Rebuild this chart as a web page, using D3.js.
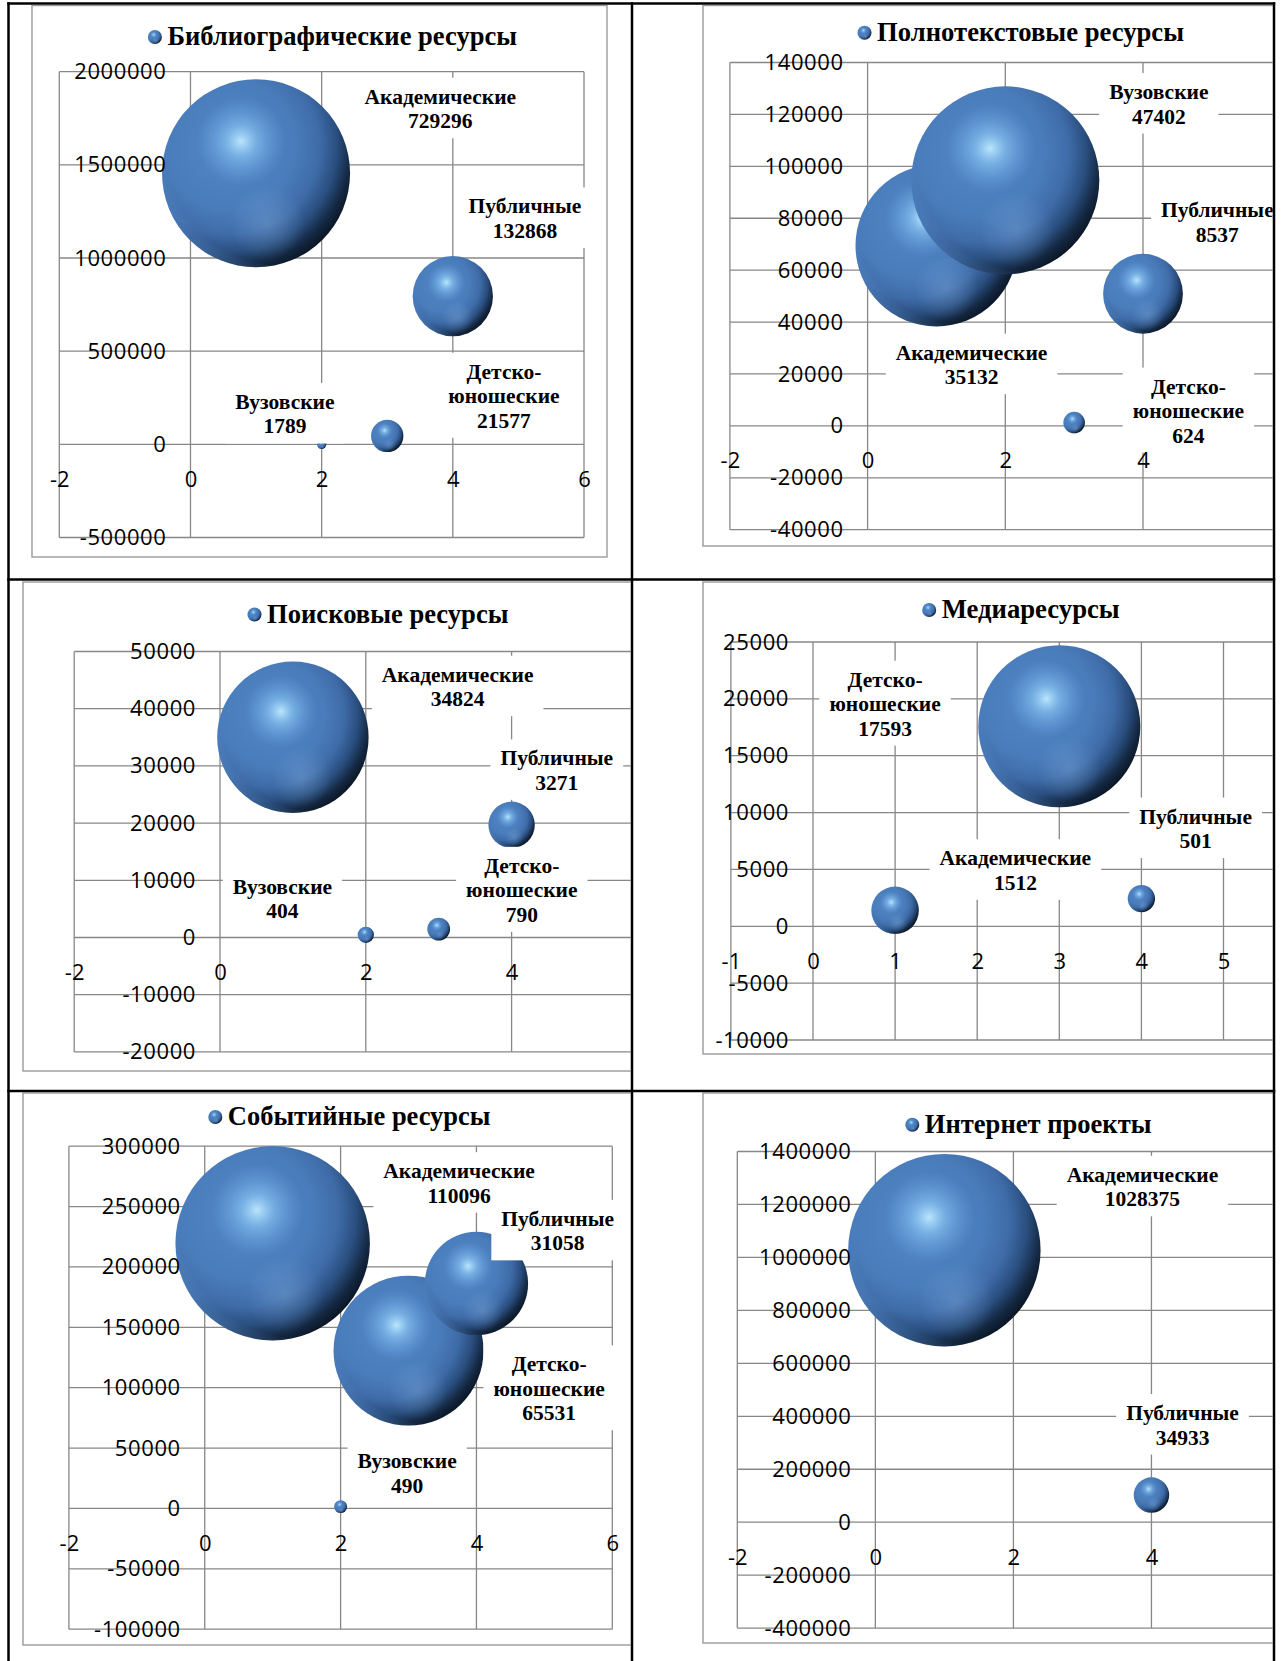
<!DOCTYPE html>
<html><head><meta charset="utf-8">
<script src="https://cdn.jsdelivr.net/npm/d3@7"></script>
<style>html,body{margin:0;padding:0;background:#fff;overflow:hidden;} svg{display:block;}</style>
</head><body>
<svg id="chart" width="1286" height="1661"></svg>
<script>
// ---------------- DATA ----------------
const categories = ["Академические", "Вузовские", "Детско-юношеские", "Публичные"];
const categoryX = [1, 2, 3, 4];

const panelTitles = [
  "Библиографические ресурсы",
  "Полнотекстовые ресурсы",
  "Поисковые ресурсы",
  "Медиаресурсы",
  "Событийные ресурсы",
  "Интернет проекты"
];

// bubble size values (shown in the data labels), order = categories
const bubbleSizes = [
  [729296, 1789, 21577, 132868],
  [35132, 47402, 624, 8537],
  [34824, 404, 790, 3271],
  [1512, null, 17593, 501],
  [110096, 490, 65531, 31058],
  [1028375, null, null, 34933]
];

// bubble vertical positions
const bubbleY = [
  [1455000, 0, 45000, 795000],
  [69500, 94600, 1300, 50900],
  [35000, 470, 1470, 19700],
  [1400, null, 17593, 2435],
  [219600, 1500, 130700, 186300],
  [1027300, null, null, 102400]
];

const xDomains = [[-2, 6], [-2, 6], [-2, 6], [-1, 6], [-2, 6], [-2, 6]];
const yDomains = [[-500000, 2000000], [-40000, 140000], [-20000, 50000], [-10000, 25000], [-100000, 300000], [-400000, 1400000]];

const xTickValues = [
  [-2, 0, 2, 4, 6],
  [-2, 0, 2, 4],
  [-2, 0, 2, 4],
  [-1, 0, 1, 2, 3, 4, 5],
  [-2, 0, 2, 4, 6],
  [-2, 0, 2, 4]
];
const yTickValues = [
  [-500000, 0, 500000, 1000000, 1500000, 2000000],
  [-40000, -20000, 0, 20000, 40000, 60000, 80000, 100000, 120000, 140000],
  [-20000, -10000, 0, 10000, 20000, 30000, 40000, 50000],
  [-10000, -5000, 0, 5000, 10000, 15000, 20000, 25000],
  [-100000, -50000, 0, 50000, 100000, 150000, 200000, 250000, 300000],
  [-400000, -200000, 0, 200000, 400000, 600000, 800000, 1000000, 1200000, 1400000]
];

// ---------------- LAYOUT ----------------
// data-label anchor positions, in axis units (annotation placement)
const labelAt = [
  [[3.81, 1800000], [1.44, 161600], [4.78, 258000], [5.10, 1211000]],
  [[1.51, 23500], [4.23, 123900], [4.66, 5700], [5.08, 78300]],
  [[3.26, 43800], [0.857, 6770], [4.14, 8250], [4.62, 29180]],
  [[2.465, 4900], null, [0.878, 19535], [4.66, 8570]],
  [[3.745, 269200], [2.98, 28900], [5.07, 99100], [5.196, 229700]],
  [[3.87, 1265600], null, null, [4.45, 365900]]
];
const cells = [
  {x0: 8.5, y0: 3.5, x1: 632, y1: 579.5},
  {x0: 632, y0: 3.5, x1: 1274, y1: 579.5},
  {x0: 8.5, y0: 579.5, x1: 632, y1: 1091},
  {x0: 632, y0: 579.5, x1: 1274, y1: 1091},
  {x0: 8.5, y0: 1091, x1: 632, y1: 1668},
  {x0: 632, y0: 1091, x1: 1274, y1: 1668}
];
const frames = [
  {x0: 32, y0: 5.5, x1: 607, y1: 557},
  {x0: 703, y0: 5.5, x1: 1300, y1: 546},
  {x0: 23, y0: 582, x1: 660, y1: 1071},
  {x0: 703, y0: 582, x1: 1300, y1: 1054},
  {x0: 23, y0: 1093, x1: 660, y1: 1645},
  {x0: 703, y0: 1093, x1: 1300, y1: 1643}
];
const plots = [
  {x: [59.3, 584], y: [537.5, 71.7], rMax: 94},
  {x: [729.9, 1280.7], y: [529.7, 62.5], rMax: 94},
  {x: [74.2, 657.4], y: [1051.9, 651.5], rMax: 75.7},
  {x: [730.9, 1305.6], y: [1040, 642], rMax: 81},
  {x: [68.9, 612.3], y: [1629.2, 1146.2], rMax: 97.2},
  {x: [737.3, 1289.5], y: [1628.1, 1151.5], rMax: 96.2}
];
const titlePos = [
  {x: 167.4, y: 37, w: 349.6},
  {x: 877, y: 32.7, w: 307},
  {x: 267, y: 614.5, w: 241.5},
  {x: 941.7, y: 610, w: 178},
  {x: 227.8, y: 1117, w: 262.7},
  {x: 924.8, y: 1124.8, w: 226.7}
];

const SERIF = "'Liberation Serif','Times New Roman',serif";
const SANS = "'Open Sans','Noto Sans',sans-serif";
const GRID = "#878787";

// ---------------- DRAW ----------------
const svg = d3.select("#chart");
svg.append("rect").attr("width", 1286).attr("height", 1661).attr("fill", "#fff");
const defs = svg.append("defs");

function radial(id, attrs, stops) {
  const gr = defs.append("radialGradient").attr("id", id);
  Object.entries(attrs).forEach(([k, v]) => gr.attr(k, v));
  stops.forEach(([o, c, op]) => gr.append("stop").attr("offset", o).attr("stop-color", c)
    .attr("stop-opacity", op == null ? 1 : op));
}
// base body: uniform mid-blue, shading to dark navy toward lower-right
radial("sphere", {cx: 0.36, cy: 0.35, r: 0.72},
  [[0, "#5087c6"], [0.48, "#4a7cbb"], [0.66, "#3f6ca8"], [0.79, "#2a4f80"], [0.9, "#142842"], [1, "#08111d"]]);
// bright specular highlight upper-left
radial("hilite", {cx: 0.42, cy: 0.33, r: 0.24},
  [[0, "#c0ebff", 0.95], [0.35, "#90cbf7", 0.6], [1, "#6aa8e8", 0]]);
// rim light on lower-left edge
radial("rim", {cx: 0.64, cy: 0.36, r: 0.78},
  [[0, "#5f95d6", 0], [0.8, "#5f95d6", 0], [0.93, "#5f95d6", 0.5], [1, "#6a9edc", 0.75]]);
// soft reflected light lower middle
radial("refl", {cx: 0.56, cy: 0.76, r: 0.2},
  [[0, "#86b2e2", 0.35], [1, "#86b2e2", 0]]);

function sphere(sel, cx, cy, r) {
  ["sphere", "rim", "refl", "hilite"].forEach(id =>
    sel.append("circle").attr("cx", cx).attr("cy", cy).attr("r", r).attr("fill", `url(#${id})`));
}

panelTitles.forEach((title, i) => {
  const cell = cells[i], fr = frames[i], P = plots[i];
  defs.append("clipPath").attr("id", "clip" + i).append("rect")
    .attr("x", cell.x0 + 1.3).attr("y", cell.y0 + 1.3)
    .attr("width", cell.x1 - cell.x0 - 2.6).attr("height", cell.y1 - cell.y0 - 2.6);
  const g = svg.append("g").attr("clip-path", `url(#clip${i})`);

  // chart area border
  g.append("rect").attr("x", fr.x0).attr("y", fr.y0)
    .attr("width", fr.x1 - fr.x0).attr("height", fr.y1 - fr.y0)
    .attr("fill", "#fff").attr("stroke", "#9a9a9a").attr("stroke-width", 1.4);

  const x = d3.scaleLinear().domain(xDomains[i]).range(P.x);
  const y = d3.scaleLinear().domain(yDomains[i]).range(P.y);
  const xs = xTickValues[i];
  const step = xs[1] - xs[0];
  const gridX = d3.range(xDomains[i][0], xDomains[i][1] + 1e-9, step);
  const gridY = yTickValues[i];

  // gridlines
  const grid = g.append("g").attr("stroke", GRID).attr("stroke-width", 1.3);
  grid.selectAll("line.h").data(gridY).join("line").attr("class", "h")
    .attr("x1", x(xDomains[i][0])).attr("x2", x(xDomains[i][1]))
    .attr("y1", d => y(d)).attr("y2", d => y(d));
  grid.selectAll("line.v").data(gridX).join("line").attr("class", "v")
    .attr("x1", d => x(d)).attr("x2", d => x(d))
    .attr("y1", y(yDomains[i][1])).attr("y2", y(yDomains[i][0]));

  // bubbles
  const sizes = bubbleSizes[i], ys = bubbleY[i];
  const r = d3.scaleSqrt().domain([0, d3.max(sizes)]).range([0, P.rMax]);
  const pts = categories.map((c, k) => ({c, xv: categoryX[k], yv: ys[k], s: sizes[k], lab: labelAt[i][k]}))
    .filter(d => d.s != null);
  const bub = g.append("g");
  pts.forEach(d => sphere(bub.append("g"), x(d.xv), y(d.yv), r(d.s)));

  // data labels with white boxes
  const labs = g.append("g");
  pts.forEach(d => {
    const parts = d.c.indexOf("-") > 0 ? [d.c.split("-")[0] + "-", d.c.split("-")[1]] : [d.c];
    const lines = parts.concat([String(d.s)]);
    const L = 24.5;
    const cx = x(d.lab[0]), cy = y(d.lab[1]);
    const b0 = cy - ((lines.length - 1) * L - 14) / 2;
    const lg = labs.append("g");
    const t = lg.append("text").attr("font-family", SERIF).attr("font-weight", "bold")
      .attr("font-size", 21.5).attr("fill", "#000").attr("text-anchor", "middle");
    lines.forEach((ln, k) => t.append("tspan").attr("x", cx).attr("y", b0 + k * L).text(ln));
    const bb = t.node().getBBox();
    lg.insert("rect", "text").attr("x", bb.x - 10).attr("y", bb.y - 7)
      .attr("width", bb.width + 20).attr("height", bb.height + 12).attr("fill", "#fff");
  });

  // axes (tick labels only)
  const ay = d3.axisLeft(y).tickValues(gridY).tickSize(0).tickPadding(24).tickFormat(d => String(d));
  const gy = g.append("g").attr("transform", `translate(${x(0)},0)`).call(ay);
  gy.select(".domain").remove();
  gy.attr("font-family", SANS).attr("font-size", 22);
  gy.selectAll("text").attr("fill", "#000").attr("letter-spacing", 0.6);

  const ax = d3.axisBottom(x).tickValues(xs).tickSize(0).tickPadding(27).tickFormat(d => String(d));
  const gx = g.append("g").attr("transform", `translate(0,${y(0)})`).call(ax);
  gx.select(".domain").remove();
  gx.attr("font-family", SANS).attr("font-size", 22);
  gx.selectAll("text").attr("fill", "#000");

  // title with sphere marker
  const tp = titlePos[i];
  sphere(g.append("g"), tp.x - 12.5, tp.y, 7);
  g.append("text").attr("x", tp.x).attr("y", tp.y + 8.3)
    .attr("font-family", SERIF).attr("font-weight", "bold").attr("font-size", 26.5)
    .attr("fill", "#000").attr("textLength", tp.w).attr("lengthAdjust", "spacingAndGlyphs")
    .text(title);
});

// table borders
const bl = svg.append("g").attr("stroke", "#000").attr("stroke-width", 2.5);
[8.5, 632, 1274].forEach(v => bl.append("line").attr("x1", v).attr("x2", v).attr("y1", 2.3).attr("y2", 1661));
[3.5, 579.5, 1091].forEach(v => bl.append("line").attr("x1", 7.3).attr("x2", 1275.2).attr("y1", v).attr("y2", v));
</script>
</body></html>
